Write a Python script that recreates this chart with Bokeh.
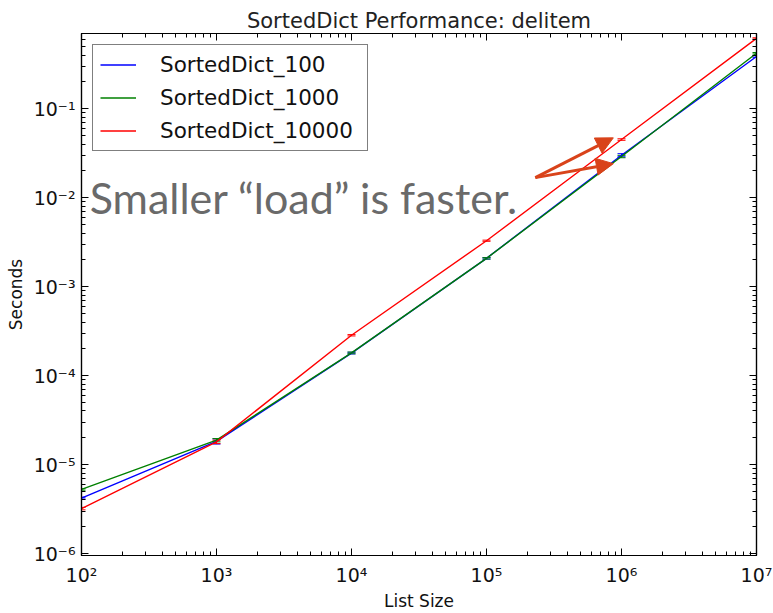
from bokeh.plotting import figure
from bokeh.models import (LogAxis, LogTicker, CustomJSTickFormatter, Legend, LegendItem,
                          Whisker, ColumnDataSource, Label, Arrow, NormalHead, TeeHead, Range1d)
from bokeh.embed import file_html
from bokeh.resources import INLINE

# ---- data ----
sizes = [1e2, 1e3, 1e4, 1e5, 1e6, 1e7]
names = ["SortedDict_100", "SortedDict_1000", "SortedDict_10000"]
colors = ["#0000ff", "#008000", "#ff0000"]
t_100 = [4.2e-6, 1.82e-5, 1.79e-4, 2.08e-3, 3.0e-2, 0.386]
t_1000 = [5.25e-6, 1.88e-5, 1.80e-4, 2.08e-3, 2.9e-2, 0.42]
t_10000 = [3.2e-6, 1.80e-5, 2.84e-4, 3.28e-3, 4.5e-2, 0.617]
err_100 = [0.1e-6, 1.2e-6, 4e-6, 4e-5, 1.2e-3, 0.008]
err_1000 = [0.1e-6, 0.8e-6, 4e-6, 4e-5, 0.9e-3, 0.008]
err_10000 = [0.1e-6, 0.8e-6, 5e-6, 5e-5, 0.9e-3, 0.010]
series = [t_100, t_1000, t_10000]
errors = [err_100, err_1000, err_10000]

title_text = "SortedDict Performance: delitem"
x_label = "List Size"
y_label = "Seconds"
note_text = "Smaller \u201cload\u201d is faster."
note_pos = (115.0, 0.0100)
arrow_start = (2.3e5, 0.0168)
arrow_ends = [(8.7e5, 0.047), (8.7e5, 0.0241)]

x_lim = (1e2, 1e7)
y_lim = (9.5e-7, 0.70)

FONT = "DejaVu Sans"

p = figure(width=773, height=613, x_axis_type="log", y_axis_type="log",
           x_range=Range1d(*x_lim), y_range=Range1d(*y_lim),
           output_backend="svg", toolbar_location=None,
           min_border_left=81, min_border_right=17, min_border_top=33, min_border_bottom=57)

p.title.text = title_text
p.title.text_font = FONT
p.title.text_font_size = "21px"
p.title.text_font_style = "normal"
p.title.align = "center"
p.title.text_color = "#222222"
p.title.standoff = 2
p.grid.visible = False
p.outline_line_color = "black"
p.outline_line_width = 1.2

fmt_code = """
const sup = {"0":"\u2070","1":"\u00b9","2":"\u00b2","3":"\u00b3","4":"\u2074","5":"\u2075",
             "6":"\u2076","7":"\u2077","8":"\u2078","9":"\u2079","-":"\u207b"};
const e = Math.round(Math.log10(tick));
return "10" + String(e).split("").map(c => sup[c]).join("");
"""

def style_axis(ax, labels=True):
    ax.ticker = LogTicker(desired_num_ticks=10, num_minor_ticks=10)
    ax.major_tick_in = 7
    ax.major_tick_out = 0
    ax.minor_tick_in = 4
    ax.minor_tick_out = 0
    ax.axis_line_color = "black"
    ax.axis_line_width = 1.2
    ax.major_tick_line_color = "black"
    ax.minor_tick_line_color = "black"
    ax.major_label_text_font = FONT
    ax.major_label_text_font_size = "19px"
    ax.major_label_text_color = "#111111"
    ax.axis_label_text_font = FONT
    ax.axis_label_text_font_size = "17px"
    ax.axis_label_text_font_style = "normal"
    ax.axis_label_text_color = "#111111"
    if labels:
        ax.formatter = CustomJSTickFormatter(code=fmt_code)
    else:
        ax.formatter = CustomJSTickFormatter(code="return '';")
        ax.major_label_text_color = None
        ax.major_label_standoff = 0
        ax.axis_label = None

for ax in p.xaxis:
    style_axis(ax)
    ax.axis_label = x_label
    ax.major_label_standoff = 8
    ax.axis_label_standoff = 2
for ax in p.yaxis:
    style_axis(ax)
    ax.axis_label = y_label
    ax.major_label_standoff = 6
    ax.axis_label_standoff = 5

top_ax = LogAxis()
style_axis(top_ax, labels=False)
p.add_layout(top_ax, "above")
right_ax = LogAxis()
style_axis(right_ax, labels=False)
p.add_layout(right_ax, "right")

items = []
for name, col, ys, es in zip(names, colors, series, errors):
    src = ColumnDataSource(dict(x=sizes, y=ys,
                                lo=[y - e for y, e in zip(ys, es)],
                                hi=[y + e for y, e in zip(ys, es)]))
    r = p.line("x", "y", source=src, line_color=col, line_width=1.4)
    w = Whisker(source=src, base="x", lower="lo", upper="hi", dimension="height",
                line_color=col, line_width=1,
                upper_head=TeeHead(size=8, line_color=col, line_width=1),
                lower_head=TeeHead(size=8, line_color=col, line_width=1))
    p.add_layout(w)
    items.append(LegendItem(label=name, renderers=[r]))

legend = Legend(items=items, location="top_left",
                label_text_font=FONT, label_text_font_size="21.5px",
                label_text_color="#111111",
                border_line_color="black", border_line_width=1.2,
                background_fill_color="white", background_fill_alpha=1.0,
                glyph_width=36, glyph_height=25, label_height=25, label_width=200,
                spacing=8, label_standoff=24, padding=7, margin=11)
p.add_layout(legend)

note = Label(x=note_pos[0], y=note_pos[1], text=note_text,
             text_font="Lato", text_font_size="43px", text_color="#6a6a6a",
             text_baseline="alphabetic", text_align="left")
p.add_layout(note)

arrow_col = "#d9431a"
for (xe, ye) in arrow_ends:
    p.add_layout(Arrow(x_start=arrow_start[0], y_start=arrow_start[1], x_end=xe, y_end=ye,
                       line_color=arrow_col, line_width=3,
                       end=NormalHead(size=17, fill_color=arrow_col, line_color=arrow_col)))

open("out.html", "w").write(file_html(p, INLINE))
